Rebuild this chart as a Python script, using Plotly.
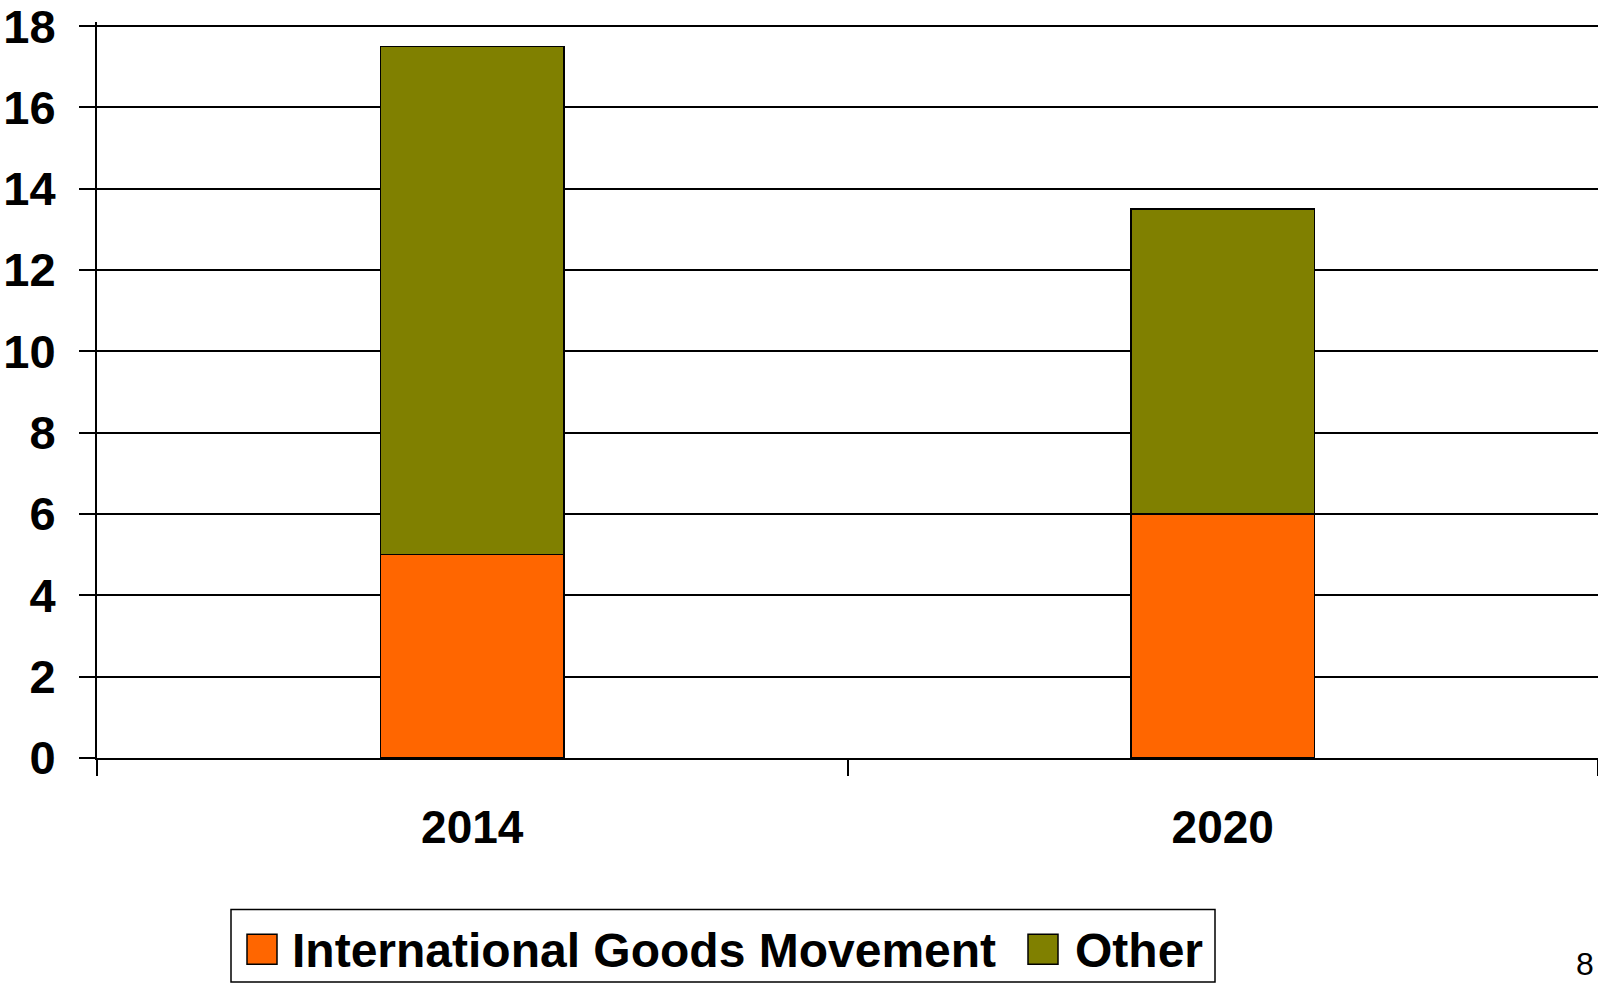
import plotly.graph_objects as go

# ---- data ----
years = ["2014", "2020"]
series_names = ["International Goods Movement", "Other"]
intl_goods = [5.0, 6.0]
other = [12.5, 7.5]
series_colors = ["#FF6600", "#808000"]
y_ticks = [0, 2, 4, 6, 8, 10, 12, 14, 16, 18]
page_number = "8"

W, H = 1598, 985
L, R, T, B = 97, 0, 19, 227
PW, PH = W - L - R, H - T - B
Y_TOP = 18.1

def px(xp):
    return (xp - L) / PW

def py(yp):
    return (H - B - yp) / PH

FONT = "Liberation Sans, Arial, sans-serif"

fig = go.Figure()
for name, vals, col in zip(series_names, [intl_goods, other], series_colors):
    fig.add_trace(go.Bar(
        x=years, y=vals, name=name, width=0.245,
        marker=dict(color=col, line=dict(color="black", width=1.5)),
        showlegend=False,
    ))

fig.update_layout(
    width=W, height=H, autosize=False,
    barmode="stack",
    margin=dict(l=L, r=R, t=T, b=B, pad=0),
    plot_bgcolor="white", paper_bgcolor="white",
    font=dict(family=FONT, color="black"),
)
fig.update_yaxes(
    range=[0, Y_TOP], tickvals=y_ticks,
    showgrid=True, gridcolor="black", gridwidth=2,
    ticks="outside", ticklen=16, tickwidth=2, tickcolor="black",
    showline=True, linecolor="black", linewidth=2,
    zeroline=False,
    tickfont=dict(family=FONT, size=47, color="black", weight="bold"),
    ticklabelstandoff=14,
    ticklabeloverflow="allow",
)
fig.update_xaxes(
    type="category", tickson="boundaries",
    ticks="outside", ticklen=16, tickwidth=2, tickcolor="black",
    showline=True, linecolor="black", linewidth=2,
    showgrid=False,
    tickfont=dict(family=FONT, size=46, color="black", weight="bold"),
    ticklabelstandoff=28,
)

# custom legend
fig.add_shape(type="rect", xref="paper", yref="paper",
              x0=px(231), x1=px(1215), y0=py(983), y1=py(910),
              line=dict(color="black", width=1.5), fillcolor="white")
sq_x = [247, 1028]
txt_x = [292, 1075]
for name, col, sx, tx in zip(series_names, series_colors, sq_x, txt_x):
    fig.add_shape(type="rect", xref="paper", yref="paper",
                  x0=px(sx), x1=px(sx + 30), y0=py(965), y1=py(935),
                  line=dict(color="black", width=1.5), fillcolor=col)
    fig.add_annotation(xref="paper", yref="paper", x=px(tx - 2), y=py(951),
                       text=name, showarrow=False, xanchor="left", yanchor="middle",
                       font=dict(family=FONT, size=48, color="black", weight="bold"))

fig.add_annotation(xref="paper", yref="paper", x=px(1596), y=py(985),
                   text=page_number, showarrow=False, xanchor="right", yanchor="bottom",
                   font=dict(family=FONT, size=32, color="black"))

fig.write_html("out.html")
